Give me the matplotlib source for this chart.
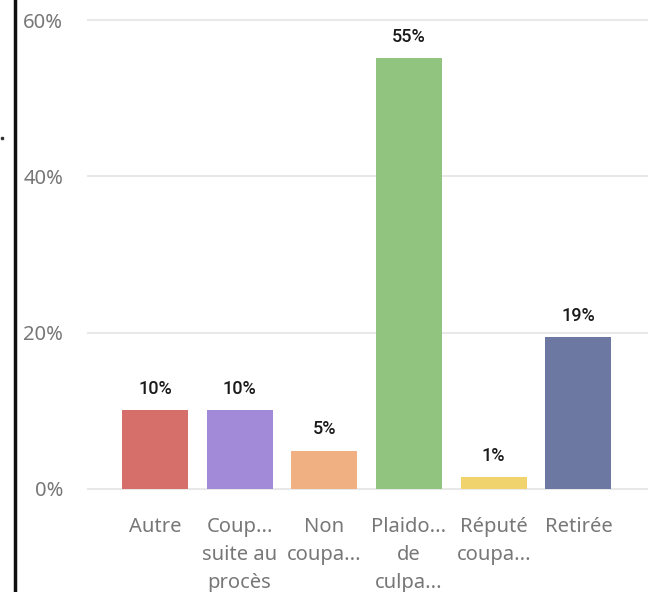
import matplotlib
matplotlib.use('Agg')
import matplotlib.pyplot as plt
from matplotlib.lines import Line2D
from matplotlib.patches import Rectangle

plt.rcParams['font.family'] = ['Noto Sans', 'DejaVu Sans']

# Data
categories = ['Autre', 'Coup...\nsuite au\nprocès', 'Non\ncoupa...',
              'Plaido...\nde\nculpa...', 'Réputé\ncoupa...', 'Retirée']
values = [10.1, 10.1, 4.9, 55.1, 1.5, 19.4]
labels = ['10%', '10%', '5%', '55%', '1%', '19%']
colors = ['#d66e6a', '#a38ad8', '#f0b081', '#91c57f', '#f0d36d', '#6c78a2']
yticks = [0, 20, 40, 60]

fig = plt.figure(figsize=(6.51, 5.92), dpi=100)
ax = fig.add_axes([88/651, 1 - 489/592, (647 - 88)/651, (489 - 20)/592])

x = range(len(categories))
bars = ax.bar(x, values, width=0.78, color=colors, zorder=3)

for b, lab in zip(bars, labels):
    ax.annotate(lab, (b.get_x() + b.get_width()/2, b.get_height()),
                xytext=(0, 9), textcoords='offset points',
                ha='center', va='bottom', fontsize=13, color='#1a1a1a',
                family=['Roboto', 'DejaVu Sans'], fontweight='medium')

ax.set_xlim(-0.79, 5.81)
ax.set_ylim(0, 60)
ax.set_yticks(yticks)
ax.set_yticklabels([f'{t}%' for t in yticks])
ax.set_xticks(list(x))
ax.set_xticklabels(categories, linespacing=1.55, va='top')
ax.tick_params(axis='both', length=0, labelcolor='#777777', labelsize=14.5)
ax.tick_params(axis='y', pad=18)
ax.tick_params(axis='x', pad=20)
ax.grid(axis='y', color='#e8e8e8', linewidth=1.5, zorder=0)
ax.set_axisbelow(True)
for s in ax.spines.values():
    s.set_visible(False)
for gl in ax.get_ygridlines():
    gl.set_clip_on(False)

# left border line and small dot from the screenshot
fig.add_artist(Line2D([14.5/651, 14.5/651], [0, 1], color='#111111', linewidth=2.5))
fig.add_artist(Rectangle((1/651, 1 - 139/592), 2/651, 2/592, color='#333333'))

fig.savefig('out.png', dpi=100)
